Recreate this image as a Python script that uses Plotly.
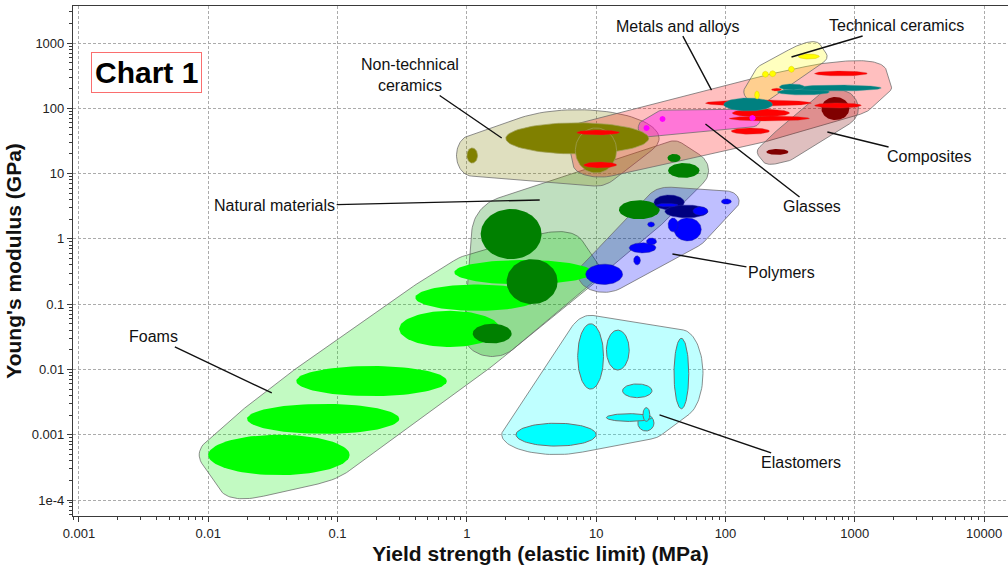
import numpy as np
import plotly.graph_objects as go

# Property ranges per material class:
# (yield strength low, yield strength high [MPa], modulus low, modulus high [GPa])
FOAMS = [
    (0.8, 9.4, 0.2, 0.475),
    (0.4, 3.6, 0.079, 0.2),
    (0.3, 1.8, 0.022, 0.079),
    (0.048, 0.7, 0.0039, 0.0113),
    (0.02, 0.3, 0.00103, 0.00297),
    (0.01, 0.124, 0.00024, 0.001),
]
NATURAL = [
    (1.28, 3.78, 0.49, 2.87),
    (2.03, 5.03, 0.1, 0.49),
    (1.11, 2.22, 0.025, 0.05),
    (15, 31, 2.0, 3.9),
    (36, 63, 8.6, 14.5),
    (35.6, 45, 15, 20),
]
POLYMERS_THERMOSET = [
    (28, 48, 2.8, 4.7),
    (34, 73, 2.1, 3.3),
]
POLYMERS_THERMOPLASTIC = [
    (8.3, 16, 0.2, 0.41),
    (18, 29, 0.61, 0.87),
    (19.5, 22, 0.4, 0.55),
    (24.5, 29.3, 0.81, 1.03),
    (25, 28.3, 1.52, 1.82),
    (40, 65, 0.93, 2.09),
    (36, 43, 1.28, 2.09),
    (29, 43, 3.1, 3.5),
    (93, 111, 3.4, 4.1),
    (56, 73, 2.3, 3.1),
]
ELASTOMERS = [
    (7.2, 11.4, 0.005, 0.05),
    (12, 18, 0.0098, 0.04),
    (40, 52, 0.0025, 0.03),
    (16, 27, 0.0037, 0.006),
    (21, 28, 0.00114, 0.002),
    (12, 27, 0.0016, 0.0021),
    (23, 26, 0.0016, 0.0026),
    (2.4, 10, 0.00067, 0.0015),
]
CERAMICS_NONTECH = [
    (2.0, 25.5, 20, 60),
    (1.0, 1.21, 14.5, 24.7),
    (6.9, 14.4, 10.2, 50),
]
COMPOSITES = [
    (552, 908, 66, 149),
    (207, 307, 19.3, 23.8),
]
METALS_NONFERROUS = [
    (488, 1250, 313, 372),
    (70, 462, 108, 134),
    (113, 313, 73.6, 97.6),
    (107, 446, 64, 76),
    (111, 219, 40, 50),
    (488, 1125, 101, 121),
    (7.06, 15.2, 39, 46.5),
    (8, 14.4, 12.2, 15.1),
    (227, 271, 184, 203),
]
METALS_FERROUS = [
    (97, 231, 91, 144),
    (252, 637, 160, 198),
    (341, 1603, 184, 227),
    (261, 408, 191, 236),
]
GLASSES = [
    (30.9, 34.4, 61.7, 76.2),
    (23.2, 25.9, 44.9, 55.5),
    (153, 171, 64, 79),
]
TECH_CERAMICS = [
    (366, 532, 569, 679),
    (193, 215, 299, 369),
    (219, 245, 305, 376),
    (307, 341, 356, 441),
    (168, 183, 139, 184),
]

X_TICKS = [0.001, 0.01, 0.1, 1, 10, 100, 1000, 10000]
X_TICK_TEXT = ["0.001", "0.01", "0.1", "1", "10", "100", "1000", "10000"]
Y_TICKS = [1e-4, 0.001, 0.01, 0.1, 1, 10, 100, 1000]
Y_TICK_TEXT = ["1e-4", "0.001", "0.01", "0.1", "1", "10", "100", "1000"]

# ---------------------------------------------------------------- styling
FONT = "Liberation Sans, Arial, sans-serif"
ENV_LINE = "rgba(105,105,105,0.75)"
ASPECT = 1.98  # one x decade is about twice as long as one y decade on screen

# family envelopes: members, fill, padding in decades (x, y),
# rounding blob (length factor, width factor, superellipse exponent) or None
ENVELOPES = [
    ([FOAMS], "rgba(0,235,0,0.24)", (0.07, 0.2), (1.0, 0.93, 2.2)),
    ([ELASTOMERS], "rgba(0,255,255,0.25)", (0.11, 0.13), None),
    ([NATURAL], "rgba(0,128,0,0.25)", (0.07, 0.2), None),
    ([POLYMERS_THERMOSET, POLYMERS_THERMOPLASTIC], "rgba(0,0,255,0.25)",
     (0.06, 0.12), None),
    ([CERAMICS_NONTECH], "rgba(128,128,0,0.25)", (0.08, 0.2), None),
    ([METALS_NONFERROUS, METALS_FERROUS], "rgba(255,0,0,0.25)", (0.08, 0.14),
     (1.0, 0.9, 2.4)),
    ([COMPOSITES], "rgba(128,0,0,0.25)", (0.07, 0.12), (1.0, 0.85, 2.2)),
    ([GLASSES], "rgba(255,0,255,0.38)", (0.04, 0.09), None),
    ([TECH_CERAMICS], "rgba(255,255,0,0.25)", (0.06, 0.11), (1.0, 0.85, 2.2)),
]

# member bubbles in drawing order: (members, fill, outline colour, outline width)
MEMBERS = [
    (FOAMS, "#00FF00", "#00FF00", 0),
    (NATURAL, "#008000", "#008000", 0),
    (POLYMERS_THERMOSET, "#000080", "rgba(40,40,160,0.8)", 0.6),
    (POLYMERS_THERMOPLASTIC, "#0000FF", "rgba(30,30,150,0.7)", 0.6),
    (ELASTOMERS, "#00FFFF", "#707070", 1),
    (CERAMICS_NONTECH, "#808000", "rgba(160,160,90,0.9)", 0.8),
    (COMPOSITES, "#800000", "#800000", 0),
    (METALS_NONFERROUS, "#FF0000", "rgba(200,60,60,0.6)", 0.5),
    (METALS_FERROUS, "#008080", "rgba(60,150,150,0.8)", 0.5),
    (GLASSES, "#FF00FF", "#FF00FF", 0),
    (TECH_CERAMICS, "#FFFF00", "rgba(220,200,0,0.9)", 0.5),
]

# label text, target (MPa, GPa), text offset in pixels
LABELS = [
    ("Non-technical<br>ceramics", 1.86, 35.1, -92, -63),
    ("Metals and alloys", 78, 190, -34, -64),
    ("Technical ceramics", 324, 611, 105, -31),
    ("Natural materials", 3.66, 3.94, -265, 6),
    ("Foams", 0.031, 0.00437, -118, -56),
    ("Composites", 614, 43.4, 102, 25),
    ("Glasses", 70, 57.5, 107, 83),
    ("Polymers", 38.9, 0.587, 109, 19),
    ("Elastomers", 30.9, 0.00201, 141, 48),
]


def ellipse_log(r, pad=(0.0, 0.0), n=90):
    lx0, lx1, ly0, ly1 = np.log10(r)
    cx, cy = (lx0 + lx1) / 2, (ly0 + ly1) / 2
    a = (lx1 - lx0) / 2 + pad[0]
    b = (ly1 - ly0) / 2 + pad[1]
    t = np.linspace(0, 2 * np.pi, n)
    return cx + a * np.cos(t), cy + b * np.sin(t)


def convex_hull(px, py):
    pts = sorted(set(zip(np.round(px, 6), np.round(py, 6))))

    def cross(o, a, b):
        return (a[0] - o[0]) * (b[1] - o[1]) - (a[1] - o[1]) * (b[0] - o[0])

    lower, upper = [], []
    for p in pts:
        while len(lower) >= 2 and cross(lower[-2], lower[-1], p) <= 0:
            lower.pop()
        lower.append(p)
    for p in reversed(pts):
        while len(upper) >= 2 and cross(upper[-2], upper[-1], p) <= 0:
            upper.pop()
        upper.append(p)
    hull = lower[:-1] + upper[:-1]
    hull.append(hull[0])
    h = np.array(hull)
    return h[:, 0], h[:, 1]


def rounded_envelope(groups, pad, blob):
    xs, ys = [], []
    for g in groups:
        for r in g:
            ex, ey = ellipse_log(r, pad)
            xs.append(ex)
            ys.append(ey)
    # work in screen-proportional units so the blob is shaped as seen
    hx, hy = convex_hull(np.concatenate(xs) * ASPECT, np.concatenate(ys))
    if blob is not None:
        fu, fv, n = blob
        P = np.c_[hx, hy]
        c = P.mean(axis=0)
        w, V = np.linalg.eigh(np.cov((P - c).T))
        u, v = V[:, 1], V[:, 0]
        pu, pv = (P - c) @ u, (P - c) @ v
        cu, cv = (pu.max() + pu.min()) / 2, (pv.max() + pv.min()) / 2
        A = (pu.max() - pu.min()) / 2 * fu
        B = (pv.max() - pv.min()) / 2 * fv
        t = np.linspace(0, 2 * np.pi, 240)
        su = np.sign(np.cos(t)) * np.abs(np.cos(t)) ** (2 / n)
        sv = np.sign(np.sin(t)) * np.abs(np.sin(t)) ** (2 / n)
        Q = c + np.outer(cu + A * su, u) + np.outer(cv + B * sv, v)
        hx, hy = convex_hull(np.r_[hx, Q[:, 0]], np.r_[hy, Q[:, 1]])
    return 10 ** (hx / ASPECT), 10 ** hy


fig = go.Figure()

for groups, fill, pad, blob in ENVELOPES:
    ex, ey = rounded_envelope(groups, pad, blob)
    fig.add_trace(go.Scatter(
        x=ex, y=ey, mode="lines", fill="toself",
        fillcolor=fill, line=dict(color=ENV_LINE, width=1),
        hoverinfo="skip", showlegend=False))

for group, fill, edge, w in MEMBERS:
    for r in group:
        ex, ey = ellipse_log(r)
        fig.add_trace(go.Scatter(
            x=10 ** ex, y=10 ** ey, mode="lines", fill="toself",
            fillcolor=fill, line=dict(color=edge, width=w),
            hoverinfo="skip", showlegend=False))

annotations = []
for text, sx, ey, ox, oy in LABELS:
    annotations.append(dict(
        x=np.log10(sx), y=np.log10(ey), xref="x", yref="y",
        text=text, showarrow=True, arrowhead=0, arrowwidth=1.4,
        arrowcolor="#111111", ax=ox, ay=oy, standoff=0,
        font=dict(family=FONT, size=16, color="#111111")))

annotations.append(dict(
    x=0.0189, y=0.9092, xref="paper", yref="paper",
    xanchor="left", yanchor="top", showarrow=False,
    text="<b>Chart 1</b>", font=dict(family=FONT, size=30, color="#000000"),
    bordercolor="#FA6E6E", borderwidth=1, borderpad=3, bgcolor="white"))


def minor_vals(lo, hi):
    return [m * 10.0 ** e for e in range(lo, hi) for m in range(2, 10)]


axis_common = dict(
    type="log", showline=True, linecolor="#3a3a3a", linewidth=1.2,
    ticks="outside", ticklen=5, tickcolor="#3a3a3a",
    showgrid=True, gridcolor="#ababab", gridwidth=1, griddash="3px,2px",
    zeroline=False, tickmode="array",
    tickfont=dict(family=FONT, size=13, color="#222222"),
    automargin=False,
)

fig.update_layout(
    width=1008, height=567,
    margin=dict(l=73, r=0, t=6, b=51),
    paper_bgcolor="white", plot_bgcolor="white",
    annotations=annotations,
    xaxis=dict(
        axis_common, range=[-3.046, 4.185], mirror=True,
        tickvals=X_TICKS, ticktext=X_TICK_TEXT,
        minor=dict(ticks="outside", ticklen=3, tickcolor="#3a3a3a",
                   tickmode="array", tickvals=minor_vals(-4, 5), showgrid=False),
        title=dict(text="<b>Yield strength (elastic limit) (MPa)</b>",
                   font=dict(family=FONT, size=21, color="#111111"), standoff=6),
    ),
    yaxis=dict(
        axis_common, range=[-4.245, 3.567],
        tickvals=Y_TICKS, ticktext=Y_TICK_TEXT,
        minor=dict(ticks="outside", ticklen=3, tickcolor="#3a3a3a",
                   tickmode="array", tickvals=minor_vals(-5, 4), showgrid=False),
        title=dict(text="<b>Young's modulus (GPa)</b>",
                   font=dict(family=FONT, size=21, color="#111111"), standoff=4),
    ),
)

fig.write_html("out.html")
